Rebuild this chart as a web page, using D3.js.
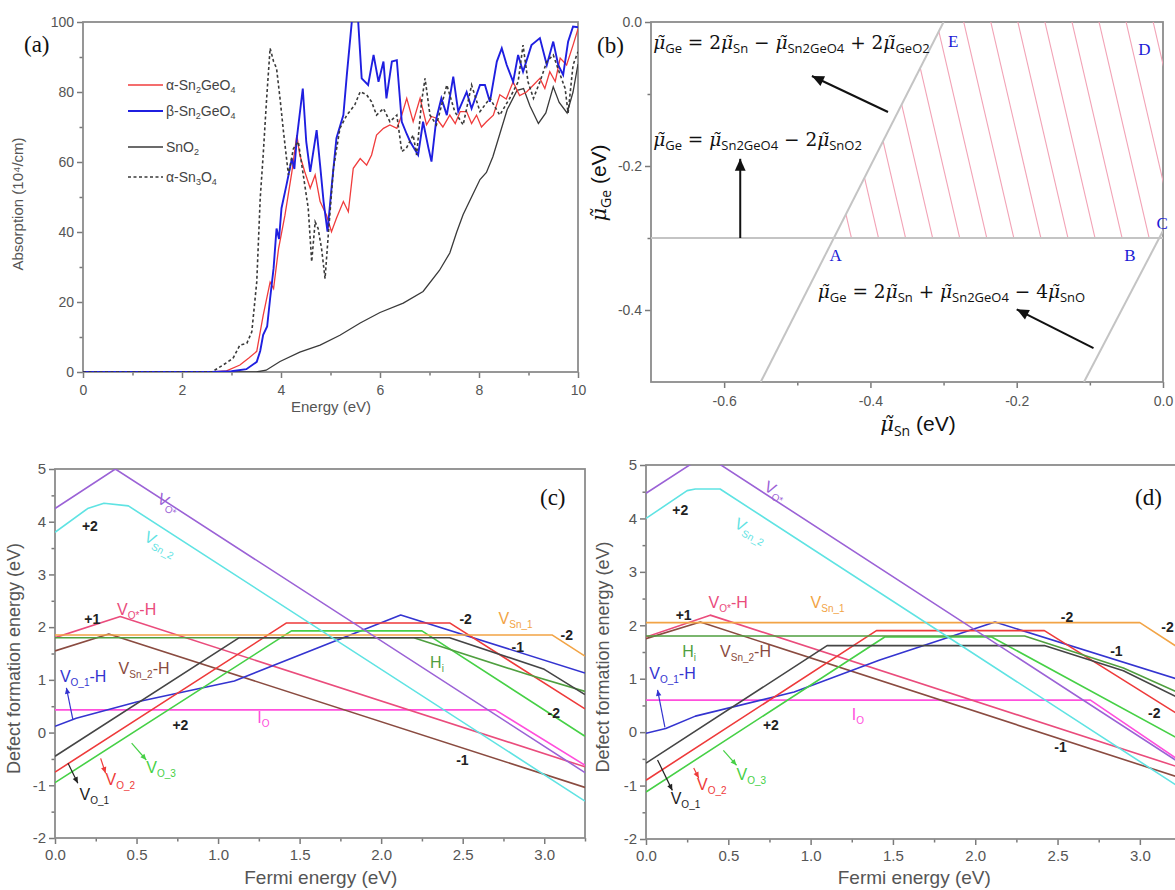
<!DOCTYPE html>
<html>
<head>
<meta charset="utf-8">
<script src="https://cdn.jsdelivr.net/npm/d3@7"></script>
<style>
  body { margin: 0; background: #fff; }
  svg { display: block; }
</style>
</head>
<body>
<div id="chart"></div>
<script>
// ---------- (a) absorption spectra: [energy eV, absorption 10^4/cm]
const alphaSn2GeO4 = [[0,0],[2.6,0],[2.9,0.3],[3.17,2],[3.35,4],[3.51,5.9],[3.64,16.2],[3.78,25.7],[3.85,23.8],[3.95,35.2],[4.08,44.8],[4.22,57.2],[4.32,67.7],[4.38,62],[4.48,57.2],[4.59,52.5],[4.69,56.3],[4.79,48.7],[4.92,44.8],[5.02,40.1],[5.12,43.9],[5.26,48.7],[5.36,45.8],[5.46,58.2],[5.6,61],[5.73,59.1],[5.83,62],[5.93,67.7],[6.07,69.6],[6.2,70.6],[6.34,69.6],[6.44,73.4],[6.54,78.2],[6.67,71.5],[6.81,78.2],[6.94,70.6],[7.04,73],[7.14,72.5],[7.27,70],[7.41,73.4],[7.52,71],[7.62,74.4],[7.75,74.4],[7.85,71],[7.95,73.4],[8.05,70],[8.15,71.5],[8.29,73.4],[8.42,79.2],[8.55,78],[8.69,82.9],[8.82,79],[8.96,80],[9.1,82],[9.23,83.9],[9.33,81],[9.43,85.8],[9.54,83],[9.64,89.7],[9.77,87.7],[9.9,93.4],[10,98]];
const betaSn2GeO4 = [[0,0],[2.6,0],[3.0,0.2],[3.3,0.8],[3.51,2.9],[3.58,6],[3.64,10.6],[3.72,13],[3.78,21],[3.85,29.6],[3.91,41],[3.96,38],[4.01,46.8],[4.11,53.4],[4.22,61],[4.27,58],[4.32,66.8],[4.44,81],[4.51,65.8],[4.59,57.2],[4.72,69.1],[4.79,59.1],[4.86,48.7],[4.94,40.1],[5.02,52.5],[5.12,66.8],[5.26,73.4],[5.33,84.9],[5.43,100],[5.47,104],[5.53,104],[5.56,100],[5.63,83.9],[5.76,82],[5.87,90.6],[5.97,82.9],[6.07,88.7],[6.13,78.2],[6.24,88.7],[6.34,89.1],[6.44,71.5],[6.54,68],[6.61,65.8],[6.77,62],[6.87,71.5],[6.98,63.9],[7.04,60.1],[7.14,72.5],[7.24,78.2],[7.35,73.4],[7.48,84.4],[7.58,74.4],[7.75,80],[7.85,75.3],[8.02,82],[8.12,82],[8.22,77.2],[8.36,88.7],[8.46,92.5],[8.56,87.7],[8.69,82.9],[8.79,90.6],[8.89,85.8],[9.06,93.4],[9.23,95.4],[9.37,87.7],[9.5,94.4],[9.6,87.7],[9.7,84.9],[9.8,94.4],[9.9,98.7],[10,98.5]];
const snO2 = [[0,0],[3.5,0],[3.7,0.5],[3.98,3],[4.38,5.7],[4.79,7.7],[5.19,10.5],[5.6,14],[6.0,17],[6.47,19.7],[6.87,23],[7.2,29],[7.41,34],[7.55,40],[7.68,45],[7.85,50],[8.02,55],[8.15,57],[8.28,61.5],[8.42,68],[8.57,75],[8.77,80.5],[8.9,81],[9.03,76],[9.2,71],[9.35,74],[9.5,81.5],[9.62,77],[9.78,74],[9.9,80],[10,88]];
const alphaSn3O4 = [[0,0],[2.6,0],[2.83,2],[3.03,3.9],[3.17,7.7],[3.31,8.2],[3.41,11.5],[3.51,25.7],[3.58,49.6],[3.64,62],[3.71,78.2],[3.78,92.5],[3.85,88.7],[3.91,86.8],[3.98,78.2],[4.05,68.7],[4.15,56.3],[4.25,63.8],[4.35,65.8],[4.45,56.3],[4.55,46.8],[4.62,31.5],[4.69,42.9],[4.75,41],[4.82,35.2],[4.89,26.7],[4.96,40.1],[5.06,58.2],[5.19,69.6],[5.33,73.4],[5.49,76.3],[5.6,80.1],[5.73,79.2],[5.83,77.2],[5.93,73.4],[6.07,75.3],[6.2,71.5],[6.34,73.4],[6.44,63],[6.53,63.9],[6.67,67.7],[6.74,62],[6.84,77.2],[6.91,83.9],[7.01,73.4],[7.14,70.6],[7.35,82],[7.51,74.4],[7.68,70.6],[7.85,82],[8.02,74.4],[8.22,78.2],[8.42,73.4],[8.62,78.2],[8.79,82.9],[8.89,93.4],[8.99,82.9],[9.1,78.2],[9.23,82.9],[9.37,88.7],[9.5,90.6],[9.64,84.9],[9.74,81],[9.8,74],[9.9,87.7],[10,91.5]];
const absLegend = ["α-Sn_{2}GeO_{4}", "β-Sn_{2}GeO_{4}", "SnO_{2}", "α-Sn_{3}O_{4}"];

// ---------- (b) chemical potential diagram (eV)
const sno2Boundary = [[-0.7,-0.3],[0,-0.3]];
const geo2Boundary = [[-0.55,-0.5],[-0.3,0]];
const snoBoundary = [[-0.108,-0.5],[0,-0.29]];
const stableRegion = [[-0.45,-0.3],[0,-0.3],[0,0],[-0.3,0]];
const cornerNames = ["A","B","C","D","E"];
const equations = [
  "μ̃_{Ge} = 2μ̃_{Sn} − μ̃_{Sn2GeO4} + 2μ̃_{GeO2}",
  "μ̃_{Ge} = μ̃_{Sn2GeO4} − 2μ̃_{SnO2}",
  "μ̃_{Ge} = 2μ̃_{Sn} + μ̃_{Sn2GeO4} − 4μ̃_{SnO}"
];

// ---------- (c) defect formation energy (eV) vs Fermi energy (eV)
const cVOstar  = [[0,4.25],[0.37,5.0],[3.25,-0.76]];
const cVSn2    = [[0,3.8],[0.2,4.25],[0.3,4.35],[0.45,4.3],[3.25,-1.3]];
const cVOstarH = [[0,1.8],[0.4,2.2],[3.25,-0.65]];
const cVSn2H   = [[0,1.55],[0.33,1.87],[3.25,-1.04]];
const cVO1H    = [[0,0.12],[0.13,0.27],[0.5,0.58],[1.1,0.98],[2.12,2.23],[3.25,1.13]];
const cIO      = [[0,0.43],[2.7,0.43],[3.25,-0.62]];
const cVO1     = [[0,-0.45],[1.13,1.8],[2.42,1.8],[3.0,1.2],[3.25,0.72]];
const cVO2     = [[0,-0.75],[1.42,2.08],[2.42,2.08],[3.25,0.45]];
const cVO3     = [[0,-0.95],[1.45,1.93],[2.25,1.93],[3.25,-0.07]];
const cHi      = [[0,1.8],[2.2,1.8],[2.9,1.1],[3.25,0.78]];
const cVSn1    = [[0,1.85],[3.05,1.85],[3.25,1.45]];

// ---------- (d)
const dVOstar  = [[0,4.47],[0.36,5.19],[3.25,-0.59]];
const dVSn2    = [[0,4.0],[0.25,4.52],[0.3,4.55],[0.45,4.55],[3.25,-1.05]];
const dVOstarH = [[0,1.78],[0.39,2.19],[3.25,-0.67]];
const dVSn2H   = [[0,1.75],[0.33,2.06],[3.25,-0.86]];
const dVO1H    = [[0,-0.02],[0.12,0.07],[0.3,0.3],[0.9,0.75],[1.42,1.35],[2.12,2.06],[3.25,0.97]];
const dIO      = [[0,0.6],[2.7,0.6],[3.25,-0.55]];
const dVO1     = [[0,-0.58],[1.1,1.62],[2.42,1.62],[2.9,1.15],[3.25,0.62]];
const dVO2     = [[0,-0.9],[1.4,1.9],[2.42,1.9],[3.25,0.3]];
const dVO3     = [[0,-1.12],[1.45,1.78],[2.1,1.78],[3.25,-0.15]];
const dHi      = [[0,1.8],[2.3,1.8],[2.9,1.2],[3.25,0.72]];
const dVSn1    = [[0,2.05],[3.0,2.05],[3.25,1.55]];

// ---------- styling
const W = 1175, H = 890;
const SANS = "Arial, 'Liberation Sans', sans-serif";
const SERIF = "'Times New Roman', 'Liberation Serif', serif";
const MATH = "'DejaVu Serif', serif";
const MU = "\u03bc\u0303";

const col = {
  VOstar: "#9b62d6", VSn2: "#5fe3e3", VOstarH: "#ea4c7c", VSn2H: "#8a4b40",
  VO1H: "#3434d0", IO: "#ff4fdc", VO1: "#454545", VO2: "#ee3a3a",
  VO3: "#46d046", Hi: "#4f9f3f", VSn1: "#f2a446"
};

const svg = d3.select("#chart").append("svg")
  .attr("width", W).attr("height", H)
  .attr("viewBox", `0 0 ${W} ${H}`);

// text with _{sub} parts, μ̃ drawn in italic
function rich(t, str, o) {
  const parts = str.split(/_\{([^}]*)\}/);
  let cur = 0;
  parts.forEach((p, i) => {
    if (!p) return;
    const isSub = i % 2 === 1;
    const target = isSub ? o.dy : 0;
    const pieces = isSub ? [p] : p.split(/(\u03bc\u0303)/).filter(q => q);
    pieces.forEach((q, k) => {
      const ts = t.append("tspan").text(q);
      if (k === 0) ts.attr("dy", target - cur);
      if (isSub) {
        ts.style("font-size", o.sub + "px");
        if (o.subFamily) ts.style("font-family", o.subFamily);
      } else if (q === MU) {
        ts.style("font-style", "italic");
        if (o.muFamily) ts.style("font-family", o.muFamily);
      }
    });
    cur = target;
  });
}

function axesBox(x, y, o) {
  const g = svg.append("g");
  const [xl, xr] = x.range(), [yb, yt] = y.range();
  g.append("g").attr("transform", `translate(0,${yb})`)
    .call(d3.axisBottom(x).tickValues(o.xMinor).tickSize(3.5).tickFormat(""));
  g.append("g").attr("transform", `translate(${xl},0)`)
    .call(d3.axisLeft(y).tickValues(o.yMinor).tickSize(3.5).tickFormat(""));
  g.append("g").attr("transform", `translate(0,${yb})`)
    .call(d3.axisBottom(x).tickValues(o.xTicks).tickSize(6).tickPadding(o.xPad || 5).tickFormat(o.xFmt));
  g.append("g").attr("transform", `translate(${xl},0)`)
    .call(d3.axisLeft(y).tickValues(o.yTicks).tickSize(6).tickPadding(3).tickFormat(o.yFmt));
  g.selectAll(".domain").remove();
  g.selectAll(".tick line").attr("stroke", "#7a7a7a").attr("stroke-width", 1.5);
  g.selectAll(".tick text").attr("fill", "#555")
    .style("font-family", SANS).style("font-size", o.fs + "px");
  g.append("rect")
    .attr("x", xl).attr("y", yt).attr("width", xr - xl).attr("height", yb - yt)
    .attr("fill", "none").attr("stroke", "#8c8c8c").attr("stroke-width", 1.8);
  return g;
}

function clipFor(id, x, y) {
  const [xl, xr] = x.range(), [yb, yt] = y.range();
  svg.append("clipPath").attr("id", id).append("rect")
    .attr("x", xl).attr("y", yt).attr("width", xr - xl).attr("height", yb - yt);
  return svg.append("g").attr("clip-path", `url(#${id})`);
}

function arrow(g, x1, y1, x2, y2, color, w, head) {
  g.append("line").attr("x1", x1).attr("y1", y1).attr("x2", x2).attr("y2", y2)
    .attr("stroke", color).attr("stroke-width", w);
  const a = Math.atan2(y2 - y1, x2 - x1);
  const p = [[x2, y2],
    [x2 - head * Math.cos(a) + head * 0.45 * Math.sin(a), y2 - head * Math.sin(a) - head * 0.45 * Math.cos(a)],
    [x2 - head * Math.cos(a) - head * 0.45 * Math.sin(a), y2 - head * Math.sin(a) + head * 0.45 * Math.cos(a)]];
  g.append("path").attr("d", "M" + p.join("L") + "Z").attr("fill", color);
}

function panelTag(s, px, py) {
  svg.append("text").attr("x", px).attr("y", py).text(s)
    .style("font-family", SERIF).style("font-size", "23px").attr("fill", "#111");
}

// ================= (a)
const xa = d3.scaleLinear().domain([0, 10]).range([83, 578]);
const ya = d3.scaleLinear().domain([0, 100]).range([372, 22]);
axesBox(xa, ya, {
  xTicks: d3.range(0, 11, 2), xMinor: d3.range(1, 10, 2), xFmt: d3.format("d"), xPad: 7,
  yTicks: d3.range(0, 101, 20), yMinor: d3.range(10, 100, 20), yFmt: d3.format("d"), fs: 14
});
const la = d3.line().x(d => xa(d[0])).y(d => ya(d[1]));
const absSeries = [
  { data: snO2, color: "#3a3a3a", w: 1.3, dash: null },
  { data: alphaSn2GeO4, color: "#f03c3c", w: 1.3, dash: null },
  { data: betaSn2GeO4, color: "#1f1fe0", w: 1.9, dash: null },
  { data: alphaSn3O4, color: "#3a3a3a", w: 1.6, dash: "3,2.5" }
];
const ga = clipFor("clipA", xa, ya);
absSeries.forEach(s => {
  ga.append("path").attr("d", la(s.data)).attr("fill", "none")
    .attr("stroke", s.color).attr("stroke-width", s.w).attr("stroke-dasharray", s.dash);
});
// legend
const legOrder = [alphaSn2GeO4, betaSn2GeO4, snO2, alphaSn3O4];
const legY = [85, 111, 147, 177];
legOrder.forEach((d, i) => {
  const s = absSeries.find(a => a.data === d);
  svg.append("line").attr("x1", 128).attr("x2", 163).attr("y1", legY[i]).attr("y2", legY[i])
    .attr("stroke", s.color).attr("stroke-width", s.w).attr("stroke-dasharray", s.dash);
  const t = svg.append("text").attr("x", 166).attr("y", legY[i] + 5).attr("fill", "#444")
    .style("font-family", SANS).style("font-size", "14px");
  rich(t, absLegend[i], { sub: 9, dy: 3 });
});
svg.append("text").attr("transform", "translate(23,204) rotate(-90)").attr("text-anchor", "middle")
  .attr("fill", "#555").style("font-family", SANS).style("font-size", "15px")
  .text("Absorption (10⁴/cm)");
svg.append("text").attr("x", 331).attr("y", 412).attr("text-anchor", "middle")
  .attr("fill", "#555").style("font-family", SANS).style("font-size", "15px").text("Energy (eV)");
panelTag("(a)", 24, 52);

// ================= (b)
const xb = d3.scaleLinear().domain([-0.7, 0]).range([651, 1163]);
const yb = d3.scaleLinear().domain([-0.5, 0]).range([382, 22]);
const fmt1 = d => d.toFixed(1);
axesBox(xb, yb, {
  xTicks: [-0.6, -0.4, -0.2, 0], xMinor: [-0.5, -0.3, -0.1], xFmt: fmt1, xPad: 8,
  yTicks: [-0.4, -0.2, 0], yMinor: [-0.3, -0.1], yFmt: fmt1, fs: 14
});
const lb = d3.line().x(d => xb(d[0])).y(d => yb(d[1]));
const gb = clipFor("clipB", xb, yb);
svg.append("clipPath").attr("id", "clipRegion").append("path")
  .attr("d", lb(stableRegion) + "Z");
const hatch = gb.append("g").attr("clip-path", "url(#clipRegion)");
d3.range(-0.5, 0.12, 0.037).forEach(x0 => {
  hatch.append("path").attr("d", lb([[x0 + 0.0046, -0.32], [x0 - 0.073, 0.02]]))
    .attr("stroke", "#f2a3b6").attr("stroke-width", 1.1).attr("fill", "none");
});
[sno2Boundary, geo2Boundary, snoBoundary].forEach(d => {
  gb.append("path").attr("d", lb(d)).attr("fill", "none")
    .attr("stroke", "#c4c4c4").attr("stroke-width", 2);
});
const cornerPos = [[-0.456, -0.332], [-0.053, -0.332], [-0.009, -0.2875], [-0.034, -0.046], [-0.294, -0.035]];
cornerNames.forEach((c, i) => {
  svg.append("text").attr("x", xb(cornerPos[i][0])).attr("y", yb(cornerPos[i][1]))
    .text(c).attr("fill", "#1c1cd6").style("font-family", SERIF).style("font-size", "17px");
});
const eqPos = [[-0.697, -0.037], [-0.697, -0.172], [-0.472, -0.383]];
equations.forEach((s, i) => {
  const t = svg.append("text").attr("x", xb(eqPos[i][0])).attr("y", yb(eqPos[i][1]))
    .attr("fill", "#111").style("font-family", MATH).style("font-size", "18.5px");
  rich(t, s, { sub: 13, dy: 4, subFamily: "'Open Sans', 'Noto Sans', sans-serif" });
});
const ab = svg.append("g");
arrow(ab, xb(-0.376), yb(-0.125), xb(-0.48), yb(-0.075), "#111", 2, 12);
arrow(ab, xb(-0.578), yb(-0.3), xb(-0.578), yb(-0.19), "#111", 2, 12);
arrow(ab, xb(-0.095), yb(-0.453), xb(-0.2), yb(-0.399), "#111", 2, 12);
{
  const t = svg.append("text").attr("transform", "translate(606,183) rotate(-90)")
    .attr("text-anchor", "middle").attr("fill", "#111")
    .style("font-family", SANS).style("font-size", "21px");
  rich(t, "μ̃_{Ge} (eV)", { sub: 14, dy: 5, subFamily: "'Open Sans', sans-serif", muFamily: MATH });
  const tx = svg.append("text").attr("x", 918).attr("y", 431)
    .attr("text-anchor", "middle").attr("fill", "#111")
    .style("font-family", SANS).style("font-size", "21px");
  rich(tx, "μ̃_{Sn} (eV)", { sub: 14, dy: 5, subFamily: "'Open Sans', sans-serif", muFamily: MATH });
}
panelTag("(b)", 597, 53);

// ================= (c) & (d)
function defectPanel(id, x, y, series, notes, arrows, tagPos, yTitleX) {
  axesBox(x, y, {
    xTicks: d3.range(0, 3.01, 0.5), xMinor: d3.range(0.25, 3.3, 0.5), xFmt: fmt1,
    yTicks: d3.range(-2, 6, 1), yMinor: d3.range(-1.5, 5, 1), yFmt: d => String(d), fs: 15
  });
  const line = d3.line().x(d => x(d[0])).y(d => y(d[1]));
  const g = clipFor(id, x, y);
  series.forEach(([pts, c]) => {
    g.append("path").attr("d", line(pts)).attr("fill", "none")
      .attr("stroke", c).attr("stroke-width", 1.6).attr("stroke-linejoin", "round");
  });
  const gn = svg.append("g");
  arrows.forEach(([x1, y1, x2, y2, c]) => arrow(gn, x(x1), y(y1), x(x2), y(y2), c, 1.2, 6));
  notes.forEach(([s, c, nx, ny, rot]) => {
    const charge = /^[+-]\d$/.test(s);
    const t = gn.append("text").attr("x", x(nx)).attr("y", y(ny)).attr("fill", c)
      .style("font-family", SANS).style("font-size", charge ? "14px" : "16px")
      .style("font-weight", charge ? "bold" : null);
    if (rot) t.attr("transform", `rotate(${rot},${x(nx)},${y(ny)})`);
    rich(t, s, { sub: 10, dy: 4 });
  });
  const [ybot, ytop] = y.range();
  svg.append("text").attr("transform", `translate(${yTitleX},${(ybot + ytop) / 2 + 5}) rotate(-90)`)
    .attr("text-anchor", "middle").attr("fill", "#555")
    .style("font-family", SANS).style("font-size", "18px").text("Defect formation energy (eV)");
  svg.append("text").attr("x", x(1.63)).attr("y", 884).attr("text-anchor", "middle")
    .attr("fill", "#555").style("font-family", SANS).style("font-size", "19px").text("Fermi energy (eV)");
  panelTag(tagPos[0], tagPos[1], tagPos[2]);
}

const xc = d3.scaleLinear().domain([0, 3.25]).range([55, 585]);
const yc = d3.scaleLinear().domain([-2, 5]).range([838, 469]);
defectPanel("clipC", xc, yc,
  [[cIO, col.IO], [cVSn2H, col.VSn2H], [cVOstarH, col.VOstarH], [cVO1H, col.VO1H],
   [cVO3, col.VO3], [cVO2, col.VO2], [cHi, col.Hi], [cVSn1, col.VSn1], [cVO1, col.VO1],
   [cVSn2, col.VSn2], [cVOstar, col.VOstar]],
  [["V_{O*}", col.VOstar, 0.62, 4.37, 28], ["+2", "#222", 0.165, 3.82],
   ["V_{Sn_2}", col.VSn2, 0.54, 3.65, 28], ["+1", "#222", 0.18, 2.06],
   ["V_{O*}-H", col.VOstarH, 0.38, 2.23], ["V_{Sn_2}-H", col.VSn2H, 0.39, 1.11],
   ["V_{O_1}-H", col.VO1H, 0.03, 0.96], ["I_{O}", col.IO, 1.24, 0.18],
   ["+2", "#222", 0.72, 0.05], ["V_{O_1}", "#222", 0.15, -1.28],
   ["V_{O_2}", col.VO2, 0.31, -1.0], ["V_{O_3}", col.VO3, 0.56, -0.77],
   ["H_{i}", col.Hi, 2.3, 1.22], ["-2", "#222", 2.48, 2.06],
   ["V_{Sn_1}", col.VSn1, 2.72, 2.06], ["-2", "#222", 3.1, 1.75],
   ["-1", "#222", 2.8, 1.53], ["-2", "#222", 3.02, 0.27], ["-1", "#222", 2.46, -0.62]],
  [[0.11, 0.24, 0.07, 0.85, col.VO1H], [0.08, -0.58, 0.14, -0.96, "#222"],
   [0.28, -0.49, 0.31, -0.77, col.VO2], [0.47, -0.2, 0.56, -0.52, col.VO3]],
  ["(c)", 540, 505], 20);

const xd = d3.scaleLinear().domain([0, 3.25]).range([646, 1181]);
const yd = d3.scaleLinear().domain([-2, 5]).range([839, 465]);
defectPanel("clipD", xd, yd,
  [[dIO, col.IO], [dVSn2H, col.VSn2H], [dVOstarH, col.VOstarH], [dVO1H, col.VO1H],
   [dVO3, col.VO3], [dVO2, col.VO2], [dHi, col.Hi], [dVSn1, col.VSn1], [dVO1, col.VO1],
   [dVSn2, col.VSn2], [dVOstar, col.VOstar]],
  [["V_{O*}", col.VOstar, 0.71, 4.53, 28], ["+2", "#222", 0.16, 4.06],
   ["V_{Sn_2}", col.VSn2, 0.53, 3.84, 28], ["+1", "#222", 0.18, 2.1],
   ["V_{O*}-H", col.VOstarH, 0.38, 2.32], ["V_{Sn_1}", col.VSn1, 1.0, 2.32],
   ["H_{i}", col.Hi, 0.22, 1.4], ["V_{Sn_2}-H", col.VSn2H, 0.45, 1.4],
   ["V_{O_1}-H", col.VO1H, 0.02, 0.99], ["I_{O}", col.IO, 1.25, 0.22],
   ["+2", "#222", 0.71, 0.04], ["V_{O_1}", "#222", 0.15, -1.35],
   ["V_{O_2}", col.VO2, 0.31, -1.09], ["V_{O_3}", col.VO3, 0.55, -0.9],
   ["-2", "#222", 2.52, 2.06], ["-2", "#222", 3.13, 1.87], ["-1", "#222", 2.82, 1.42],
   ["-2", "#222", 3.05, 0.26], ["-1", "#222", 2.48, -0.37]],
  [[0.115, 0.09, 0.07, 0.79, col.VO1H], [0.07, -0.52, 0.16, -1.09, "#222"],
   [0.29, -0.67, 0.32, -0.86, col.VO2], [0.47, -0.34, 0.55, -0.62, col.VO3]],
  ["(d)", 1135, 505], 609);
</script>
</body>
</html>
